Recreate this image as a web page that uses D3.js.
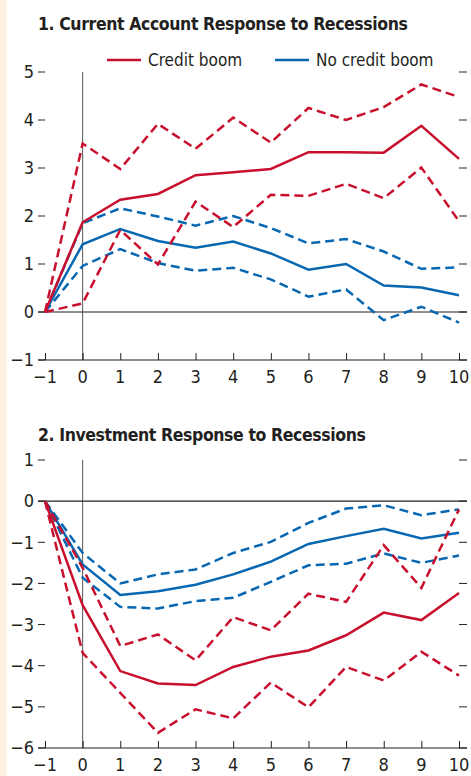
<!DOCTYPE html>
<html>
<head>
<meta charset="utf-8">
<script src="https://cdn.jsdelivr.net/npm/d3@7"></script>
<style>
  body { margin: 0; background: #fff; }
  svg text { font-family: "Liberation Sans Narrow", "DejaVu Sans Condensed", "Roboto Condensed", Roboto, sans-serif; fill: #231f20; }
  .title { font-weight: bold; font-size: 17.5px; letter-spacing: -0.4px; }
  .tick-label { font-size: 18px; }
  .legend-label { font-size: 17px; }
</style>
</head>
<body>
<div id="chart"></div>
<script>
const periods = [-1, 0, 1, 2, 3, 4, 5, 6, 7, 8, 9, 10];

// panel 1: current account
const caBoom     = [0, 1.87, 2.34, 2.46, 2.85, 2.91, 2.98, 3.33, 3.33, 3.32, 3.88, 3.19];
const caBoomHi   = [0, 3.51, 2.98, 3.92, 3.40, 4.05, 3.53, 4.25, 4.00, 4.27, 4.74, 4.48];
const caBoomLo   = [0, 0.18, 1.71, 0.99, 2.30, 1.77, 2.44, 2.42, 2.67, 2.37, 3.01, 1.89];
const caNoBoom   = [0, 1.41, 1.73, 1.48, 1.34, 1.47, 1.22, 0.88, 1.00, 0.55, 0.51, 0.35];
const caNoBoomHi = [0, 1.85, 2.16, 1.99, 1.80, 2.00, 1.75, 1.43, 1.52, 1.26, 0.90, 0.93];
const caNoBoomLo = [0, 0.96, 1.31, 1.02, 0.86, 0.92, 0.68, 0.32, 0.47, -0.17, 0.11, -0.22];
const caTicks = [-1, 0, 1, 2, 3, 4, 5];

// panel 2: investment
const invBoom     = [0, -2.53, -4.13, -4.43, -4.47, -4.03, -3.78, -3.63, -3.26, -2.71, -2.89, -2.23];
const invBoomHi   = [0, -1.62, -3.52, -3.24, -3.87, -2.82, -3.14, -2.25, -2.45, -1.07, -2.11, -0.20];
const invBoomLo   = [0, -3.69, -4.66, -5.63, -5.06, -5.28, -4.41, -5.01, -4.03, -4.36, -3.66, -4.24];
const invNoBoom   = [0, -1.54, -2.28, -2.19, -2.03, -1.78, -1.47, -1.04, -0.85, -0.67, -0.91, -0.77];
const invNoBoomHi = [0, -1.26, -2.00, -1.78, -1.66, -1.26, -0.99, -0.53, -0.18, -0.10, -0.34, -0.20];
const invNoBoomLo = [0, -1.86, -2.57, -2.61, -2.43, -2.35, -1.96, -1.56, -1.52, -1.27, -1.50, -1.32];
const invTicks = [-6, -5, -4, -3, -2, -1, 0, 1];

const legendLabels = ['Credit boom', 'No credit boom'];
const red = '#c8102e';
const blue = '#0867b1';

const width = 471, height = 776;
const svg = d3.select('#chart').append('svg')
  .attr('width', width)
  .attr('height', height);

// beige strip at the left edge
svg.append('rect')
  .attr('x', 0).attr('y', 0)
  .attr('width', 7).attr('height', height)
  .attr('fill', '#fdf1e4');

const x = d3.scaleLinear().domain([-1, 10]).range([45, 459]);

drawPanel({
  title: '1. Current Account Response to Recessions',
  titleY: 30,
  ticks: caTicks,
  y: d3.scaleLinear().domain([-1, 5]).range([360, 72]),
  series: [
    { values: caNoBoomHi, color: blue, dashed: true },
    { values: caNoBoomLo, color: blue, dashed: true },
    { values: caNoBoom, color: blue },
    { values: caBoomHi, color: red, dashed: true },
    { values: caBoomLo, color: red, dashed: true },
    { values: caBoom, color: red },
  ],
});

drawPanel({
  title: '2. Investment Response to Recessions',
  titleY: 441,
  ticks: invTicks,
  y: d3.scaleLinear().domain([-6, 1]).range([748, 460]),
  series: [
    { values: invNoBoomHi, color: blue, dashed: true },
    { values: invNoBoomLo, color: blue, dashed: true },
    { values: invNoBoom, color: blue },
    { values: invBoomHi, color: red, dashed: true },
    { values: invBoomLo, color: red, dashed: true },
    { values: invBoom, color: red },
  ],
});

drawLegend();

function drawPanel(cfg) {
  const y = cfg.y;
  const g = svg.append('g');
  const [yMin, yMax] = y.domain();
  const left = x.range()[0] - 7, right = x.range()[1] + 8;

  g.append('text')
    .attr('class', 'title')
    .attr('x', 38)
    .attr('y', cfg.titleY)
    .text(cfg.title);

  // left ticks + labels
  const yt = g.selectAll('g.ytick').data(cfg.ticks).enter().append('g')
    .attr('class', 'ytick')
    .attr('transform', d => `translate(0,${y(d)})`);
  yt.append('line')
    .attr('x1', left).attr('x2', x.range()[0])
    .attr('stroke', '#231f20').attr('stroke-width', 1);
  yt.append('line')
    .attr('x1', x.range()[1]).attr('x2', right)
    .attr('stroke', '#231f20').attr('stroke-width', 1);
  yt.append('text')
    .attr('class', 'tick-label')
    .attr('x', left - 4)
    .attr('dy', '0.35em')
    .attr('text-anchor', 'end')
    .text(d => d < 0 ? '\u2212' + Math.abs(d) : d);

  // vertical line at period 0
  g.append('line')
    .attr('x1', x(0)).attr('x2', x(0))
    .attr('y1', y(yMax)).attr('y2', y(yMin))
    .attr('stroke', '#555').attr('stroke-width', 1);

  // zero line
  g.append('line')
    .attr('x1', left).attr('x2', right)
    .attr('y1', y(0)).attr('y2', y(0))
    .attr('stroke', '#231f20').attr('stroke-width', 1.2);

  // x axis with ticks pointing up
  const xAxis = d3.axisTop(x).tickValues(periods).tickSize(7).tickFormat('');
  const ax = g.append('g')
    .attr('transform', `translate(0,${y(yMin)})`)
    .call(xAxis);
  ax.select('.domain').remove();
  ax.selectAll('.tick line').attr('stroke', '#231f20');
  g.append('line')
    .attr('x1', left).attr('x2', right)
    .attr('y1', y(yMin)).attr('y2', y(yMin))
    .attr('stroke', '#231f20').attr('stroke-width', 1.2);

  g.selectAll('text.xlabel').data(periods).enter().append('text')
    .attr('class', 'tick-label xlabel')
    .attr('x', d => x(d))
    .attr('y', y(yMin) + 23)
    .attr('text-anchor', 'middle')
    .text(d => d < 0 ? '\u2212' + Math.abs(d) : d);

  const line = d3.line()
    .x((d, i) => x(periods[i]))
    .y(d => y(d));

  g.selectAll('path.series').data(cfg.series).enter().append('path')
    .attr('class', 'series')
    .attr('fill', 'none')
    .attr('stroke', d => d.color)
    .attr('stroke-width', 2.5)
    .attr('stroke-dasharray', d => d.dashed ? '9,5' : null)
    .attr('d', d => line(d.values));
}

function drawLegend() {
  const items = [
    { label: legendLabels[0], color: red, x: 107 },
    { label: legendLabels[1], color: blue, x: 275 },
  ];
  const lg = svg.selectAll('g.legend').data(items).enter().append('g')
    .attr('class', 'legend')
    .attr('transform', d => `translate(${d.x},60)`);
  lg.append('line')
    .attr('x1', 0).attr('x2', 34)
    .attr('stroke', d => d.color)
    .attr('stroke-width', 2.5);
  lg.append('text')
    .attr('class', 'legend-label')
    .attr('x', 41)
    .attr('y', 6)
    .text(d => d.label);
}
</script>
</body>
</html>
